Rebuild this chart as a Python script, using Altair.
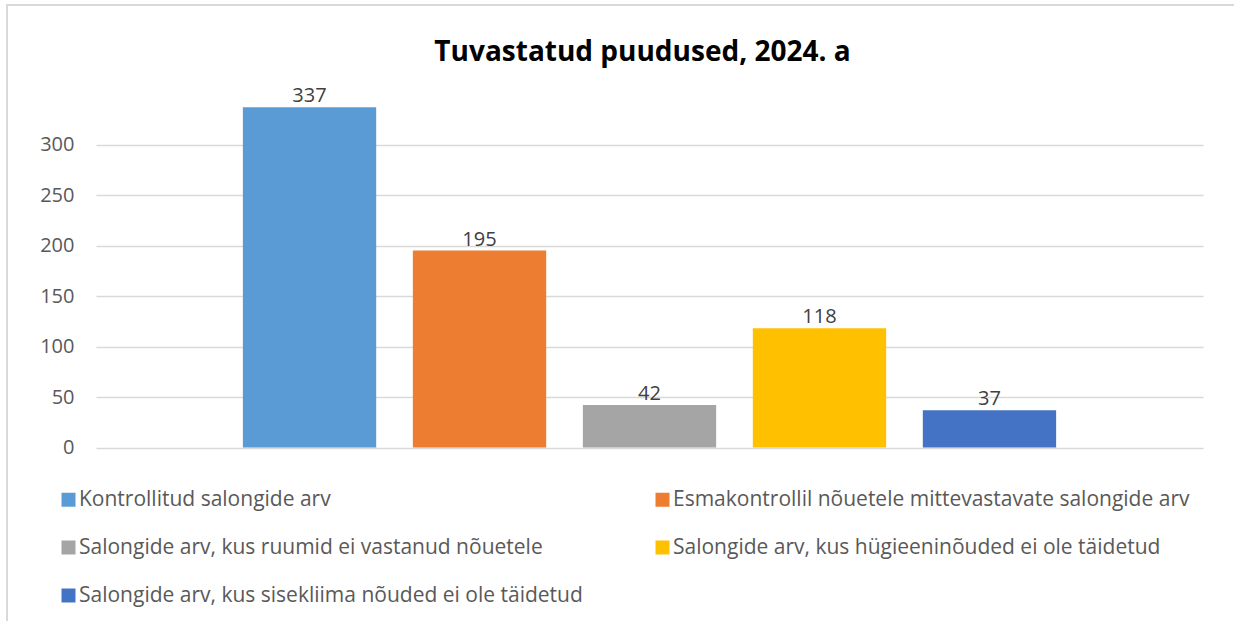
import altair as alt
import pandas as pd

series = [
    "Kontrollitud salongide arv",
    "Esmakontrollil nõuetele mittevastavate salongide arv",
    "Salongide arv, kus ruumid ei vastanud nõuetele",
    "Salongide arv, kus hügieeninõuded ei ole täidetud",
    "Salongide arv, kus sisekliima nõuded ei ole täidetud",
]
values = [337, 195, 42, 118, 37]
colors = ["#5B9BD5", "#ED7D31", "#A5A5A5", "#FFC000", "#4472C4"]
y_ticks = [0, 50, 100, 150, 200, 250, 300]

# legend is filled column by column (3 rows, 2 columns)
legend_order = [0, 2, 4, 1, 3]
legend_domain = [series[i] for i in legend_order]
legend_range = [colors[i] for i in legend_order]

df = pd.DataFrame({"series": series, "value": values})

FONT = "Open Sans"
PLOT_W = 1107
PLOT_H = 353.5

x_enc = alt.X(
    "series:N",
    sort=series,
    axis=None,
    scale=alt.Scale(paddingInner=0.2157, paddingOuter=0.864),
)
y_enc = alt.Y(
    "value:Q",
    scale=alt.Scale(domain=[0, 350], nice=False),
    axis=alt.Axis(
        values=y_ticks,
        title=None,
        domain=False,
        ticks=False,
        labelPadding=22,
        labelFontSize=20,
        labelColor="#595959",
        labelFont=FONT,
        gridColor="#D9D9D9",
        gridWidth=1.5,
    ),
)

bars = alt.Chart(df).mark_bar().encode(
    x=x_enc,
    y=y_enc,
    color=alt.Color(
        "series:N",
        scale=alt.Scale(domain=legend_domain, range=legend_range),
        legend=alt.Legend(
            title=None,
            orient="none",
            legendX=-38,
            legendY=395,
            columns=2,
            columnPadding=69,
            rowPadding=26,
            symbolType="square",
            symbolSize=196,
            symbolStrokeWidth=0,
            labelFontSize=21,
            labelFont=FONT,
            labelColor="#595959",
            labelLimit=1000,
            labelOffset=0,
        ),
    ),
)

labels = alt.Chart(df).mark_text(
    baseline="bottom", dy=-1, fontSize=20, font=FONT, color="#404040"
).encode(x=x_enc, y=y_enc, text="value:Q")

border = alt.Chart(df).mark_rect(
    fill=None, stroke="#D9D9D9", strokeWidth=2, clip=False
).encode(
    x=alt.value(-89), x2=alt.value(3000), y=alt.value(-89), y2=alt.value(3000)
)

chart = (
    alt.layer(border, bars, labels)
    .properties(
        width=PLOT_W,
        height=PLOT_H,
        title=alt.TitleParams(
            "Tuvastatud puudused, 2024. a",
            fontSize=28,
            font=FONT,
            fontWeight="bold",
            color="#000000",
            anchor="middle",
            frame="group",
            dx=-7,
            dy=63,
            offset=0,
        ),
        padding={"left": 96, "top": 94, "right": 31, "bottom": 173.5},
        autosize=alt.AutoSizeParams(type="none"),
    )
    .configure(background="white", view=alt.ViewConfig(stroke=None))
)

chart.save("out.html", embed_options={"renderer": "svg", "actions": False})
